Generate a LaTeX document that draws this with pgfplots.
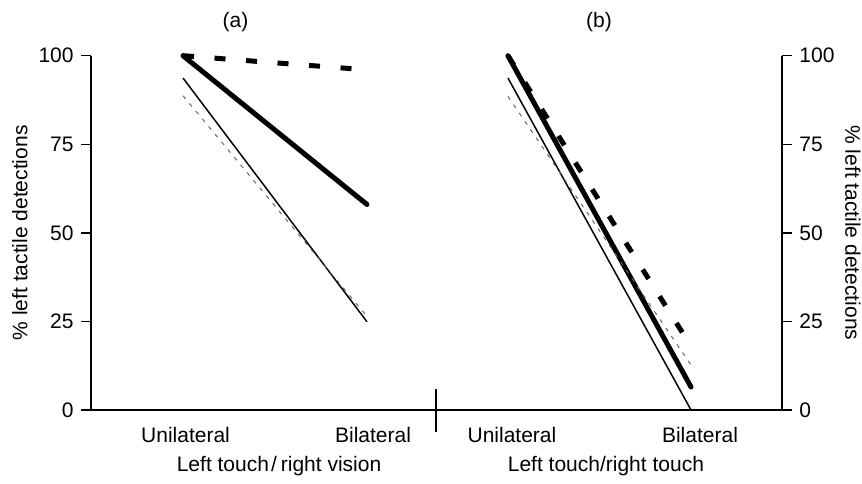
\documentclass[border=0pt]{standalone}
\usepackage{fontspec}
\setmainfont{Liberation Sans}
\usepackage{pgfplots}
\pgfplotsset{compat=1.18}
\begin{document}
\fontsize{10.5bp}{12.6bp}\selectfont
\begin{tikzpicture}[x=1bp,y=1bp]
\useasboundingbox (0,0) rectangle (431,242);
\pgfplotsset{
  common/.style={
    scale only axis, height=177.15bp, ymin=0, ymax=100, clip=false,
    axis line style={-, line width=0.75bp},
    x axis line style={-}, y axis line style={-},
    ytick={0,25,50,75,100},
    tick style={line width=0.75bp, black},
    major tick length=5bp, tick align=outside,
    every major x tick/.append style={draw=none},
    /pgf/number format/assume math mode=true,
    every axis x label/.style={anchor=base},
  },
  thickS/.style={line width=2.5bp, line cap=round, black},
  thickD/.style={line width=2.5bp, black, dash pattern=on 5.5bp off 10.3bp},
  thinS/.style={line width=0.75bp, black},
  thinD/.style={line width=0.5bp, black!60, dash pattern=on 2bp off 3bp},
}
\begin{axis}[axis x line=bottom, axis y line=left, common,
  at={(45.5bp,37bp)}, anchor=south west, width=172.5bp,
  xmin=-0.5, xmax=1.375,
  xtick={0.014,1.033}, xticklabels={Unilateral,Bilateral},
  xlabel={Left touch\kern1pt/\kern2pt right vision},
  xlabel style={at={(axis description cs:0.545,-0.174)}},
  ylabel={\% left tactile detections},
  every axis y label/.style={at={(axis description cs:-0.206,0.5)}, rotate=90, anchor=center},
  title={(a)},
  every axis title/.style={at={(axis description cs:0.419,1.095)}, anchor=center},
]
\addplot[thickD] coordinates {(0,100) (1,96)};
\addplot[thickS] coordinates {(0,100) (1,58)};
\addplot[thinS] coordinates {(0,93.7) (1,24.9)};
\addplot[thinD] coordinates {(0,88.7) (1,26.4)};
\end{axis}
\begin{axis}[axis x line=bottom, axis y line=right, common,
  at={(218bp,37bp)}, anchor=south west, width=173bp,
  xmin=-0.393, xmax=1.497,
  yticklabel pos=right,
  xtick={0.022,1.049}, xticklabels={Unilateral,Bilateral},
  xlabel={Left touch/right touch},
  xlabel style={at={(axis description cs:0.491,-0.174)}},
  ylabel={\% left tactile detections},
  every axis y label/.style={at={(axis description cs:1.205,0.5)}, rotate=-90, anchor=center},
  title={(b)},
  every axis title/.style={at={(axis description cs:0.471,1.095)}, anchor=center},
]
\addplot[thickD] coordinates {(0,100) (1,18)};
\addplot[thickS] coordinates {(0,100) (1,6.5)};
\addplot[thinS] coordinates {(0,93.7) (1,0)};
\addplot[thinD] coordinates {(0,88.5) (1,12.7)};
\draw[line width=0.75bp] ([yshift=-11bp]rel axis cs:0,0) -- ([yshift=10.5bp]rel axis cs:0,0);
\end{axis}
\end{tikzpicture}
\end{document}
